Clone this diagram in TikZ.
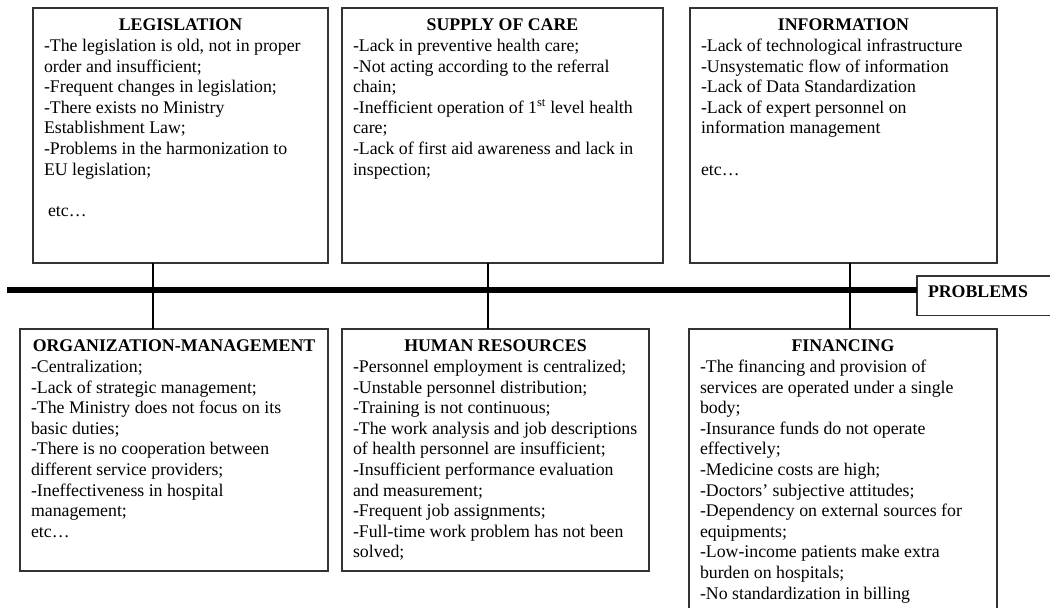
\documentclass[tikz,border=0pt]{standalone}
\usepackage{fontspec}
\setmainfont{Liberation Serif}
\hyphenpenalty=10000
\newcommand{\boxtitle}[1]{{\centering\textbf{#1}\par}}
\tikzset{
  causebox/.style={draw=black!80, line width=1.2pt, anchor=north west, outer sep=0pt,
    inner xsep=11pt, inner ysep=11pt, align=flush left, text height=11.8pt,
    font=\fontsize{17.8}{20.6}\selectfont},
  link/.style={line width=1.1pt},
  spineline/.style={line width=6pt}
}
\begin{document}
\begin{tikzpicture}[x=1pt,y=-1pt]
  \useasboundingbox (0,0) rectangle (1050,608);
  % Kaesten oben
  \node[causebox, text width=273pt, text depth=221.2pt] (legis) at (33,8) {\boxtitle{LEGISLATION}
    -The legislation is old, not in proper\\
    order and insufficient;\\
    -Frequent changes in legislation;\\
    -There exists no Ministry\\
    Establishment Law;\\
    -Problems in the harmonization to\\
    EU legislation;\\[\baselineskip]
    \hspace*{4pt}etc…};
  \node[causebox, text width=299pt, text depth=221.2pt] (supply) at (342,8) {\boxtitle{SUPPLY OF CARE}
    -Lack in preventive health care;\\
    -Not acting according to the referral\\
    chain;\\
    -Inefficient operation of 1\textsuperscript{st} level health\\
    care;\\
    -Lack of first aid awareness and lack in\\
    inspection;};
  \node[causebox, text width=285pt, text depth=221.2pt] (info) at (690,8) {\boxtitle{INFORMATION}
    -Lack of technological infrastructure\\
    -Unsystematic flow of information\\
    -Lack of Data Standardization\\
    -Lack of expert personnel on\\
    information management\\[\baselineskip]
    etc…};
  % Kaesten unten
  \node[causebox, text width=286pt, text depth=208.2pt] (org) at (20,329) {\boxtitle{ORGANIZATION-MANAGEMENT}
    -Centralization;\\
    -Lack of strategic management;\\
    -The Ministry does not focus on its\\
    basic duties;\\
    -There is no cooperation between\\
    different service providers;\\
    -Ineffectiveness in hospital\\
    management;\\
    etc…};
  \node[causebox, text width=285pt, text depth=208.2pt] (hr) at (342,329) {\boxtitle{HUMAN RESOURCES}
    -Personnel employment is centralized;\\
    -Unstable personnel distribution;\\
    -Training is not continuous;\\
    -The work analysis and job descriptions\\
    of health personnel are insufficient;\\
    -Insufficient performance evaluation\\
    and measurement;\\
    -Frequent job assignments;\\
    -Full-time work problem has not been\\
    solved;};
  \node[causebox, text width=286pt, text depth=266.2pt] (fin) at (689,329) {\boxtitle{FINANCING}
    -The financing and provision of\\
    services are operated under a single\\
    body;\\
    -Insurance funds do not operate\\
    effectively;\\
    -Medicine costs are high;\\
    -Doctors' subjective attitudes;\\
    -Dependency on external sources for\\
    equipments;\\
    -Low-income patients make extra\\
    burden on hospitals;\\
    -No standardization in billing};
  % Problem-Kasten und dicke Linie
  \node[causebox, text width=126pt, text depth=8pt, inner ysep=10pt] (problems) at (917,276) {\textbf{PROBLEMS}};
  \coordinate (spine) at (7,289.5);
  \draw[spineline] (spine) -- (spine -| problems.west);
  % Verbindungen
  \path (153,0) coordinate (a1) (488,0) coordinate (a2) (850,0) coordinate (a3);
  \foreach \src/\dst/\ax in {legis/org/a1,supply/hr/a2,info/fin/a3}
    \draw[link] (\src.south -| \ax) -- (\dst.north -| \ax);
\end{tikzpicture}
\end{document}
